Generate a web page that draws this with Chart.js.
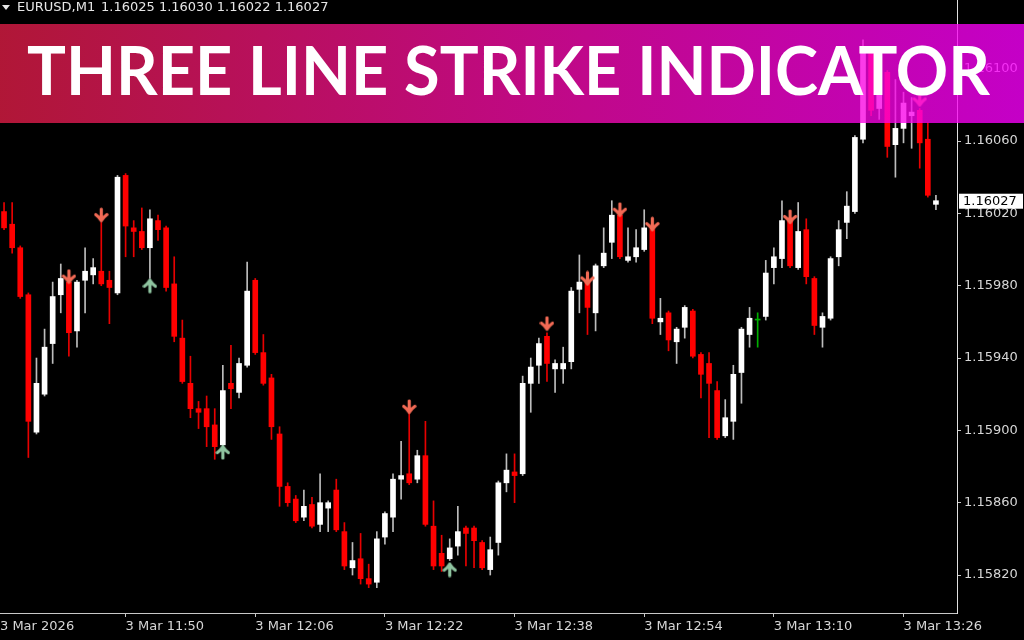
<!DOCTYPE html>
<html>
<head>
<meta charset="utf-8">
<title>Three Line Strike Indicator</title>
<script src="https://cdn.jsdelivr.net/npm/chart.js@4.4.1/dist/chart.umd.min.js"></script>
<style>
  html, body { margin: 0; padding: 0; background: #000; overflow: hidden; }
</style>
</head>
<body>
<canvas id="chartVelas" width="1024" height="640"></canvas>
<script>
const symbol = 'EURUSD,M1';
const title = 'THREE LINE STRIKE INDICATOR';
const dateLabel = '3 Mar 2026';
const dayPrefix = '3 Mar ';

const times = [
  '11:35','11:36','11:37','11:38','11:39','11:40','11:41','11:42','11:43','11:44',
  '11:45','11:46','11:47','11:48','11:49','11:50','11:51','11:52','11:53','11:54',
  '11:55','11:56','11:57','11:58','11:59','12:00','12:01','12:02','12:03','12:04',
  '12:05','12:06','12:07','12:08','12:09','12:10','12:11','12:12','12:13','12:14',
  '12:15','12:16','12:17','12:18','12:19','12:20','12:21','12:22','12:23','12:24',
  '12:25','12:26','12:27','12:28','12:29','12:30','12:31','12:32','12:33','12:34',
  '12:35','12:36','12:37','12:38','12:39','12:40','12:41','12:42','12:43','12:44',
  '12:45','12:46','12:47','12:48','12:49','12:50','12:51','12:52','12:53','12:54',
  '12:55','12:56','12:57','12:58','12:59','13:00','13:01','13:02','13:03','13:04',
  '13:05','13:06','13:07','13:08','13:09','13:10','13:11','13:12','13:13','13:14',
  '13:15','13:16','13:17','13:18','13:19','13:20','13:21','13:22','13:23','13:24',
  '13:25','13:26','13:27','13:28','13:29','13:30'
];

const opens = [
  1.16021, 1.16014, 1.16001, 1.15975, 1.15899, 1.15920, 1.15948, 1.15975, 1.15982, 1.15955,
  1.15983, 1.15986, 1.15988, 1.15983, 1.15976, 1.16041, 1.16012, 1.16010, 1.16001, 1.16016,
  1.16012, 1.15981, 1.15951, 1.15926, 1.15912, 1.15912, 1.15903, 1.15892, 1.15926, 1.15921,
  1.15936, 1.15983, 1.15943, 1.15929, 1.15898, 1.15869, 1.15862, 1.15852, 1.15859, 1.15848,
  1.15857, 1.15867, 1.15844, 1.15824, 1.15829, 1.15818, 1.15816, 1.15841, 1.15852, 1.15873,
  1.15876, 1.15873, 1.15886, 1.15847, 1.15832, 1.15829, 1.15836, 1.15846, 1.15846, 1.15838,
  1.15823, 1.15838, 1.15871, 1.15877, 1.15876, 1.15926, 1.15936, 1.15952, 1.15934, 1.15934,
  1.15938, 1.15978, 1.15982, 1.15965, 1.15991, 1.16004, 1.16019, 1.15994, 1.15996, 1.16000,
  1.16011, 1.15960, 1.15965, 1.15949, 1.15957, 1.15966, 1.15942, 1.15937, 1.15922, 1.15897,
  1.15905, 1.15932, 1.15953, 1.15961, 1.15963, 1.15990, 1.15995, 1.16016, 1.15990, 1.16011,
  1.15984, 1.15957, 1.15962, 1.15996, 1.16015, 1.16021, 1.16061, 1.16110, 1.16078, 1.16098,
  1.16058, 1.16067, 1.16074, 1.16077, 1.16061, 1.16025
];
const highs = [
  1.16026, 1.16026, 1.16002, 1.15976, 1.15940, 1.15956, 1.15982, 1.15992, 1.15983, 1.15983,
  1.16001, 1.15995, 1.16015, 1.15988, 1.16041, 1.16042, 1.16016, 1.16023, 1.16022, 1.16019,
  1.16013, 1.15996, 1.15961, 1.15941, 1.15916, 1.15919, 1.15912, 1.15936, 1.15947, 1.15940,
  1.15993, 1.15984, 1.15953, 1.15931, 1.15902, 1.15871, 1.15864, 1.15867, 1.15863, 1.15876,
  1.15861, 1.15873, 1.15849, 1.15838, 1.15843, 1.15826, 1.15844, 1.15855, 1.15876, 1.15894,
  1.15910, 1.15889, 1.15905, 1.15861, 1.15842, 1.15840, 1.15858, 1.15847, 1.15847, 1.15839,
  1.15841, 1.15872, 1.15887, 1.15887, 1.15930, 1.15940, 1.15951, 1.15954, 1.15939, 1.15946,
  1.15979, 1.15997, 1.15983, 1.15992, 1.16012, 1.16027, 1.16020, 1.16012, 1.16011, 1.16022,
  1.16012, 1.15973, 1.15966, 1.15957, 1.15969, 1.15967, 1.15943, 1.15943, 1.15927, 1.15917,
  1.15936, 1.15957, 1.15968, 1.15965, 1.15994, 1.16001, 1.16027, 1.16017, 1.16026, 1.16017,
  1.15985, 1.15965, 1.15996, 1.16016, 1.16032, 1.16063, 1.16116, 1.16111, 1.16094, 1.16099,
  1.16094, 1.16087, 1.16084, 1.16078, 1.16070, 1.16030
];
const lows = [
  1.16011, 1.15998, 1.15973, 1.15885, 1.15898, 1.15919, 1.15937, 1.15965, 1.15941, 1.15946,
  1.15965, 1.15981, 1.15980, 1.15959, 1.15975, 1.15996, 1.15996, 1.16000, 1.15984, 1.16005,
  1.15977, 1.15949, 1.15926, 1.15907, 1.15901, 1.15891, 1.15884, 1.15891, 1.15912, 1.15918,
  1.15935, 1.15942, 1.15925, 1.15895, 1.15858, 1.15858, 1.15849, 1.15850, 1.15846, 1.15844,
  1.15844, 1.15844, 1.15823, 1.15820, 1.15815, 1.15813, 1.15813, 1.15837, 1.15844, 1.15862,
  1.15870, 1.15871, 1.15847, 1.15823, 1.15822, 1.15828, 1.15831, 1.15825, 1.15824, 1.15823,
  1.15820, 1.15831, 1.15866, 1.15860, 1.15875, 1.15910, 1.15926, 1.15927, 1.15921, 1.15926,
  1.15934, 1.15965, 1.15953, 1.15955, 1.15990, 1.15995, 1.15995, 1.15993, 1.15993, 1.15999,
  1.15959, 1.15953, 1.15944, 1.15937, 1.15951, 1.15940, 1.15918, 1.15896, 1.15895, 1.15896,
  1.15895, 1.15915, 1.15946, 1.15946, 1.15961, 1.15981, 1.15990, 1.15990, 1.15989, 1.15981,
  1.15953, 1.15946, 1.15961, 1.15991, 1.16006, 1.16020, 1.16059, 1.16074, 1.16072, 1.16051,
  1.16040, 1.16059, 1.16056, 1.16045, 1.16029, 1.16022
];
const closes = [
  1.16012, 1.16001, 1.15974, 1.15905, 1.15926, 1.15946, 1.15974, 1.15984, 1.15954, 1.15982,
  1.15988, 1.15990, 1.15981, 1.15979, 1.16040, 1.16013, 1.16010, 1.16001, 1.16017, 1.16011,
  1.15979, 1.15952, 1.15927, 1.15912, 1.15910, 1.15902, 1.15891, 1.15922, 1.15923, 1.15937,
  1.15977, 1.15943, 1.15926, 1.15902, 1.15869, 1.15860, 1.15850, 1.15858, 1.15847, 1.15860,
  1.15860, 1.15845, 1.15825, 1.15828, 1.15818, 1.15815, 1.15840, 1.15854, 1.15873, 1.15875,
  1.15871, 1.15886, 1.15848, 1.15825, 1.15825, 1.15835, 1.15844, 1.15843, 1.15839, 1.15824,
  1.15834, 1.15871, 1.15878, 1.15875, 1.15926, 1.15935, 1.15948, 1.15937, 1.15937, 1.15937,
  1.15977, 1.15982, 1.15968, 1.15991, 1.15998, 1.16019, 1.15996, 1.15996, 1.16001, 1.16012,
  1.15962, 1.15962, 1.15950, 1.15956, 1.15968, 1.15941, 1.15931, 1.15926, 1.15896, 1.15907,
  1.15931, 1.15956, 1.15962, 1.15961, 1.15987, 1.15996, 1.16016, 1.15991, 1.16010, 1.15985,
  1.15958, 1.15963, 1.15995, 1.16011, 1.16024, 1.16062, 1.16111, 1.16077, 1.16087, 1.16057,
  1.16067, 1.16081, 1.16076, 1.16059, 1.16030, 1.16027
];

// sinais do indicador
const sellTimes = ['11:43', '11:47', '12:25', '12:42', '12:47', '12:51', '12:55', '13:12', '13:28'];
const sellPrices = [1.15985, 1.16019, 1.15913, 1.15959, 1.15984, 1.16022, 1.16014, 1.16018, 1.16083];
const buyTimes = ['11:53', '12:02', '12:30'];
const buyPrices = [1.15980, 1.15888, 1.15823];

const yTicks = [1.15820, 1.15860, 1.15900, 1.15940, 1.15980, 1.16020, 1.16060, 1.16100];
const yMin = 1.15799;
const yMax = 1.16138;
const xTickTimes = ['11:50', '12:06', '12:22', '12:38', '12:54', '13:10', '13:26'];

const textColor = '#d6d6d6';
const axisColor = '#c8c8c8';
const fonte = { family: 'DejaVu Sans', size: 13 };

function corVela(i) {
  if (closes[i] > opens[i]) return '#ffffff';
  if (closes[i] < opens[i]) return '#ff0000';
  return '#00b000';
}

function corSombra(i) {
  if (closes[i] > opens[i]) return '#bdbdbd';
  if (closes[i] < opens[i]) return '#e80000';
  return '#00b000';
}

function criarSeta(cor, paraBaixo) {
  const c = document.createElement('canvas');
  c.width = 15;
  c.height = 16;
  const g = c.getContext('2d');
  g.strokeStyle = cor;
  g.lineWidth = 3.2;
  g.lineCap = 'round';
  g.lineJoin = 'round';
  if (!paraBaixo) {
    g.translate(0, 16);
    g.scale(1, -1);
  }
  g.beginPath();
  g.moveTo(7.5, 2);
  g.lineTo(7.5, 13.5);
  g.moveTo(2, 7.5);
  g.quadraticCurveTo(5.5, 10, 7.5, 13.5);
  g.quadraticCurveTo(9.5, 10, 13, 7.5);
  g.stroke();
  return c;
}

const overlay = {
  id: 'overlay',
  afterDraw(chart) {
    const ctx = chart.ctx;
    const area = chart.chartArea;
    const last = times.length - 1;

    ctx.save();
    // cabecalho do simbolo
    ctx.fillStyle = '#e6e6e6';
    ctx.beginPath();
    ctx.moveTo(2, 5);
    ctx.lineTo(10, 5);
    ctx.lineTo(6, 10);
    ctx.closePath();
    ctx.fill();
    ctx.font = '13px "DejaVu Sans"';
    ctx.textBaseline = 'middle';
    ctx.fillText(symbol, 17, 8);
    const ohlc = [opens[last], highs[last], lows[last], closes[last]].map(v => v.toFixed(5));
    ctx.fillText(ohlc.join(' '), 101, 8);

    // etiqueta do preco atual
    const py = chart.scales.y.getPixelForValue(closes[last]);
    ctx.fillStyle = '#ffffff';
    ctx.fillRect(area.right + 2, py - 7, 64, 15);
    ctx.fillStyle = '#000000';
    ctx.fillText(closes[last].toFixed(5), area.right + 6, py + 0.5);

    // faixa do titulo
    const grad = ctx.createLinearGradient(0, 0, chart.width, 0);
    grad.addColorStop(0, 'rgba(232, 30, 72, 0.76)');
    grad.addColorStop(0.5, 'rgba(245, 12, 165, 0.78)');
    grad.addColorStop(1, 'rgba(252, 0, 255, 0.78)');
    ctx.fillStyle = grad;
    ctx.fillRect(0, 24, chart.width, 99);

    ctx.font = 'bold 66px Lato';
    ctx.fillStyle = '#ffffff';
    ctx.textBaseline = 'alphabetic';
    const w = ctx.measureText(title).width;
    ctx.translate(27, 95);
    ctx.scale(963 / w, 1);
    ctx.fillText(title, 0, 0);
    ctx.restore();
  }
};

function criarGrafico() {
  const corpos = times.map((t, i) => ({ x: i, y: [opens[i], closes[i]] }));
  const sombras = times.map((t, i) => ({ x: i, y: [lows[i], highs[i]] }));
  const vendas = sellTimes.map((t, k) => ({ x: times.indexOf(t), y: sellPrices[k] }));
  const compras = buyTimes.map((t, k) => ({ x: times.indexOf(t), y: buyPrices[k] }));

  const ctx = document.getElementById('chartVelas').getContext('2d');
  new Chart(ctx, {
    type: 'bar',
    data: {
      datasets: [
        {
          type: 'line',
          data: vendas,
          showLine: false,
          pointStyle: criarSeta('#f26a55', true),
          order: 0
        },
        {
          type: 'line',
          data: compras,
          showLine: false,
          pointStyle: criarSeta('#8fc4a0', false),
          order: 0
        },
        {
          data: corpos,
          backgroundColor: times.map((t, i) => corVela(i)),
          barThickness: 5,
          minBarLength: 1,
          grouped: false,
          borderWidth: 0,
          order: 1
        },
        {
          data: sombras,
          backgroundColor: times.map((t, i) => corSombra(i)),
          barThickness: 1,
          grouped: false,
          borderWidth: 0,
          order: 2
        }
      ]
    },
    options: {
      responsive: false,
      animation: false,
      layout: { padding: 0, autoPadding: false },
      plugins: {
        legend: { display: false },
        tooltip: { enabled: false }
      },
      scales: {
        x: {
          type: 'linear',
          min: -0.5,
          max: 117.6,
          offset: false,
          afterBuildTicks: s => {
            s.ticks = [{ value: -0.5 }].concat(xTickTimes.map(t => ({ value: times.indexOf(t) })));
          },
          afterFit: s => {
            s.height = 27;
            s.paddingLeft = 0;
            s.paddingRight = 0;
          },
          ticks: {
            align: 'start',
            autoSkip: false,
            maxRotation: 0,
            padding: 2,
            color: textColor,
            font: fonte,
            callback: (v, i) => i === 0 ? dateLabel : dayPrefix + times[v]
          },
          grid: {
            offset: false,
            drawOnChartArea: false,
            tickLength: 4,
            color: c => c.index === 0 ? 'rgba(0,0,0,0)' : axisColor
          },
          border: { display: true, color: axisColor, width: 1 }
        },
        y: {
          position: 'right',
          min: yMin,
          max: yMax,
          beginAtZero: false,
          afterBuildTicks: s => { s.ticks = yTicks.map(v => ({ value: v })); },
          afterFit: s => {
            s.width = 67;
            s.paddingTop = 0;
            s.paddingBottom = 0;
          },
          ticks: {
            padding: 3,
            color: textColor,
            font: fonte,
            callback: v => v.toFixed(5)
          },
          grid: {
            drawOnChartArea: false,
            tickLength: 4,
            color: axisColor
          },
          border: { display: true, color: '#e0e0e0', width: 1 }
        }
      }
    },
    plugins: [overlay]
  });
}

window.addEventListener('DOMContentLoaded', criarGrafico);
</script>
</body>
</html>
